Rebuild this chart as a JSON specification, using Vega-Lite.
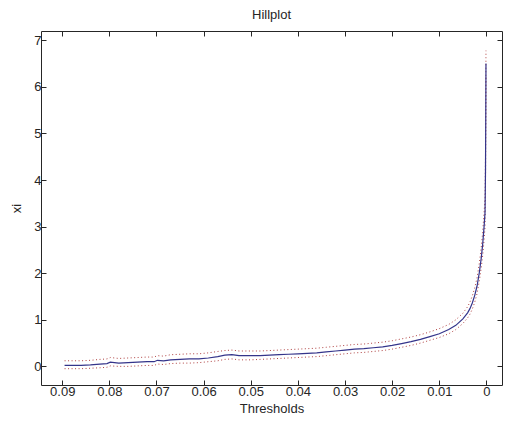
{
  "$schema": "https://vega.github.io/schema/vega-lite/v6.json",
  "autosize": {"type": "none"},
  "padding": {"left": 41, "top": 31, "right": 4, "bottom": 38},
  "width": 461,
  "height": 354,
  "background": "white",
  "config": {
    "view": {"stroke": null},
    "font": "Liberation Sans",
    "axis": {
      "grid": false,
      "domainColor": "#262626",
      "tickColor": "#262626",
      "labelColor": "#262626",
      "titleColor": "#262626",
      "labelFont": "Liberation Sans",
      "titleFont": "Liberation Sans",
      "labelFontSize": 13,
      "titleFontSize": 13,
      "titleFontWeight": "normal",
      "tickSize": -5,
      "domainWidth": 1,
      "tickWidth": 1
    }
  },
  "title": {
    "text": "Hillplot",
    "font": "Liberation Sans",
    "fontSize": 13,
    "fontWeight": "normal",
    "color": "#262626",
    "offset": 9
  },
  "data": {
    "values": [
      {"t": 0.0895, "xi": 0.02, "lo": -0.05, "hi": 0.12},
      {"t": 0.088, "xi": 0.02, "lo": -0.05, "hi": 0.12},
      {"t": 0.086, "xi": 0.02, "lo": -0.05, "hi": 0.12},
      {"t": 0.084, "xi": 0.03, "lo": -0.04, "hi": 0.13},
      {"t": 0.082, "xi": 0.05, "lo": -0.03, "hi": 0.15},
      {"t": 0.0805, "xi": 0.06, "lo": -0.02, "hi": 0.16},
      {"t": 0.0798, "xi": 0.09, "lo": 0.01, "hi": 0.19},
      {"t": 0.078, "xi": 0.07, "lo": 0.0, "hi": 0.17},
      {"t": 0.076, "xi": 0.08, "lo": 0.0, "hi": 0.18},
      {"t": 0.074, "xi": 0.09, "lo": 0.01, "hi": 0.19},
      {"t": 0.072, "xi": 0.1, "lo": 0.02, "hi": 0.2},
      {"t": 0.0705, "xi": 0.1, "lo": 0.02, "hi": 0.2},
      {"t": 0.0698, "xi": 0.13, "lo": 0.05, "hi": 0.23},
      {"t": 0.0685, "xi": 0.12, "lo": 0.04, "hi": 0.22},
      {"t": 0.067, "xi": 0.14, "lo": 0.06, "hi": 0.25},
      {"t": 0.065, "xi": 0.15, "lo": 0.07, "hi": 0.26},
      {"t": 0.063, "xi": 0.16, "lo": 0.07, "hi": 0.27},
      {"t": 0.061, "xi": 0.16, "lo": 0.08, "hi": 0.27},
      {"t": 0.059, "xi": 0.18, "lo": 0.1, "hi": 0.29},
      {"t": 0.057, "xi": 0.21, "lo": 0.12, "hi": 0.32},
      {"t": 0.0555, "xi": 0.24, "lo": 0.15, "hi": 0.34},
      {"t": 0.054, "xi": 0.25, "lo": 0.16, "hi": 0.35},
      {"t": 0.0525, "xi": 0.23, "lo": 0.14, "hi": 0.33},
      {"t": 0.05, "xi": 0.23, "lo": 0.14, "hi": 0.33},
      {"t": 0.048, "xi": 0.23, "lo": 0.15, "hi": 0.33},
      {"t": 0.046, "xi": 0.24, "lo": 0.16, "hi": 0.34},
      {"t": 0.044, "xi": 0.25, "lo": 0.17, "hi": 0.35},
      {"t": 0.042, "xi": 0.26, "lo": 0.18, "hi": 0.36},
      {"t": 0.04, "xi": 0.27, "lo": 0.19, "hi": 0.37},
      {"t": 0.038, "xi": 0.28, "lo": 0.2, "hi": 0.38},
      {"t": 0.036, "xi": 0.29, "lo": 0.21, "hi": 0.39},
      {"t": 0.034, "xi": 0.31, "lo": 0.23, "hi": 0.41},
      {"t": 0.032, "xi": 0.33, "lo": 0.25, "hi": 0.43},
      {"t": 0.03, "xi": 0.35, "lo": 0.27, "hi": 0.45},
      {"t": 0.028, "xi": 0.37, "lo": 0.29, "hi": 0.47},
      {"t": 0.026, "xi": 0.38, "lo": 0.3, "hi": 0.48},
      {"t": 0.024, "xi": 0.4, "lo": 0.32, "hi": 0.5},
      {"t": 0.022, "xi": 0.42, "lo": 0.34, "hi": 0.52},
      {"t": 0.02, "xi": 0.45, "lo": 0.37, "hi": 0.55},
      {"t": 0.018, "xi": 0.49, "lo": 0.41, "hi": 0.59},
      {"t": 0.016, "xi": 0.53, "lo": 0.45, "hi": 0.63},
      {"t": 0.014, "xi": 0.58, "lo": 0.5, "hi": 0.68},
      {"t": 0.012, "xi": 0.64, "lo": 0.56, "hi": 0.74},
      {"t": 0.01, "xi": 0.7, "lo": 0.62, "hi": 0.81},
      {"t": 0.008, "xi": 0.79, "lo": 0.7, "hi": 0.9},
      {"t": 0.0065, "xi": 0.88, "lo": 0.79, "hi": 1.0},
      {"t": 0.005, "xi": 1.02, "lo": 0.92, "hi": 1.14},
      {"t": 0.004, "xi": 1.15, "lo": 1.04, "hi": 1.28},
      {"t": 0.0035, "xi": 1.24, "lo": 1.12, "hi": 1.38},
      {"t": 0.003, "xi": 1.36, "lo": 1.23, "hi": 1.51},
      {"t": 0.0025, "xi": 1.52, "lo": 1.37, "hi": 1.68},
      {"t": 0.002, "xi": 1.72, "lo": 1.56, "hi": 1.9},
      {"t": 0.0015, "xi": 2.02, "lo": 1.84, "hi": 2.22},
      {"t": 0.0011, "xi": 2.33, "lo": 2.12, "hi": 2.56},
      {"t": 0.0008, "xi": 2.62, "lo": 2.38, "hi": 2.88},
      {"t": 0.0005, "xi": 3.0, "lo": 2.72, "hi": 3.3},
      {"t": 0.0003, "xi": 3.3, "lo": 3.0, "hi": 3.62},
      {"t": 0.0002, "xi": 4.2, "lo": 3.85, "hi": 4.55},
      {"t": 0.00015, "xi": 5.2, "lo": 4.85, "hi": 5.55},
      {"t": 0.0001, "xi": 6.5, "lo": 6.2, "hi": 6.78}
    ]
  },
  "encoding": {
    "x": {
      "field": "t",
      "type": "quantitative",
      "scale": {"domain": [-0.0033, 0.0945], "reverse": true, "nice": false, "zero": false}
    }
  },
  "layer": [
    {
      "encoding": {
        "x": {
          "field": "t",
          "type": "quantitative",
          "axis": {
            "orient": "bottom",
            "title": "Thresholds",
            "values": [0, 0.01, 0.02, 0.03, 0.04, 0.05, 0.06, 0.07, 0.08, 0.09],
            "format": ".2~f",
            "labelPadding": 5,
            "titlePadding": 4
          }
        }
      },
      "layer": [
        {
          "mark": {"type": "line", "color": "#b04040", "strokeWidth": 1, "strokeDash": [1, 2.5]},
          "encoding": {
            "y": {
              "field": "hi",
              "type": "quantitative",
              "scale": {"domain": [-0.4, 7.2], "nice": false, "zero": false},
              "axis": {
                "orient": "left",
                "title": "xi",
                "values": [0, 1, 2, 3, 4, 5, 6, 7],
                "labelPadding": 5,
                "titlePadding": 10
              }
            }
          }
        },
        {
          "mark": {"type": "line", "color": "#b04040", "strokeWidth": 1, "strokeDash": [1, 2.5]},
          "encoding": {"y": {"field": "lo", "type": "quantitative", "title": "xi"}}
        },
        {
          "mark": {"type": "line", "color": "#34348a", "strokeWidth": 1.2},
          "encoding": {"y": {"field": "xi", "type": "quantitative", "title": "xi"}}
        }
      ]
    },
    {
      "mark": {"type": "line", "opacity": 0},
      "encoding": {
        "x": {
          "field": "t",
          "type": "quantitative",
          "axis": {"orient": "top", "title": null, "labels": false, "values": [0, 0.01, 0.02, 0.03, 0.04, 0.05, 0.06, 0.07, 0.08, 0.09]}
        },
        "y": {
          "field": "xi",
          "type": "quantitative",
          "axis": {"orient": "right", "title": null, "labels": false, "values": [0, 1, 2, 3, 4, 5, 6, 7]}
        }
      }
    }
  ],
  "resolve": {"axis": {"x": "independent", "y": "independent"}}
}
